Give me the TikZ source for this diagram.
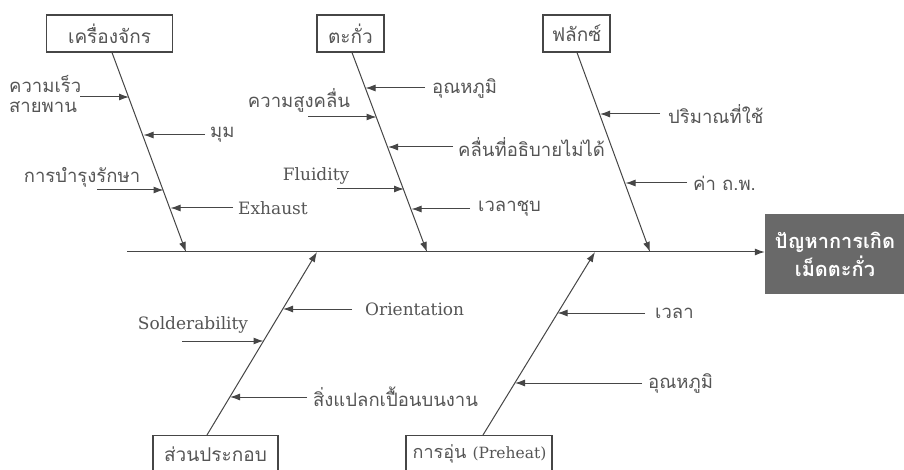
\documentclass[tikz,border=0pt]{standalone}
\usepackage{fontspec}
\setmainfont{DejaVu Serif}
\newfontfamily\thai[Script=Thai]{Loma}
\usetikzlibrary{arrows.meta}
\definecolor{ink}{RGB}{70,70,70}
\definecolor{txt}{RGB}{85,85,85}
\definecolor{effectfill}{RGB}{105,105,105}
\tikzset{
  cat/.style={draw=ink, line width=1.1pt, fill=white, text=txt, font=\thai\fontsize{19}{22}\selectfont,
              minimum height=37pt, inner sep=2pt},
  bone/.style={draw=ink, line width=1pt, -{Latex[length=10pt,width=7pt]}},
  twig/.style={draw=ink, line width=1pt, -{Latex[length=10pt,width=7pt]}},
  lbl/.style={text=txt, font=\thai\fontsize{18.5}{20}\selectfont, inner sep=0pt},
  lat/.style={text=txt, font=\fontsize{17}{20}\selectfont, inner sep=0pt},
}
\begin{document}
\begin{tikzpicture}[x=1pt, y=-1pt]
\useasboundingbox (0,0) rectangle (904,470);
\clip (0,0) rectangle (904,470);
\fill[white] (0,0) rectangle (904,470);

% effect box and spine
\node[fill=effectfill, text=white, font=\thai\bfseries\fontsize{20}{28}\selectfont, align=center,
      minimum width=140pt, minimum height=80pt, inner sep=0pt] (eff) at (835,254) {ปัญหาการเกิด\\เม็ดตะกั่ว};
\coordinate (tail) at (127,252);
\draw[bone] (tail) -- (eff.west |- tail);

% category boxes
\node[cat, minimum width=126pt] (mc) at (109.5,33.5) {เครื่องจักร};
\node[cat, minimum width=67pt]  (pb) at (350.5,33.5) {ตะกั่ว};
\node[cat, minimum width=67pt]  (fx) at (576.5,33.5) {ฟลักซ์};
\node[cat, minimum width=125pt, minimum height=60pt, anchor=north] (pt) at (215.5,435) {};
\node[cat, minimum width=146pt, minimum height=60pt, anchor=north] (ph) at (479,435) {};
\node[lbl, font=\thai\fontsize{19}{22}\selectfont] (ptl) at (215.5,454) {ส่วนประกอบ};
\node[lbl, font=\thai\fontsize{18}{22}\selectfont] (phl) at (479.5,454) {การอุ่น {\rmfamily\fontsize{15.5}{18}\selectfont (Preheat)}};

% joints on the spine
\coordinate (j1) at (186,252);
\coordinate (j2) at (427,252);
\coordinate (j3) at (650,252);
\coordinate (j4) at (317,252);
\coordinate (j5) at (595,252);

% main bones
\draw[bone] ([xshift=2.5pt]mc.south) -- (j1);
\draw[bone] ([xshift=1.5pt]pb.south) -- (j2);
\draw[bone] ([xshift=0.5pt]fx.south) -- (j3);
\draw[bone] ([xshift=-8.5pt]pt.north) -- (j4);
\draw[bone] ([xshift=4pt]ph.north) -- (j5);

% ---- machine ----
\node[lbl, anchor=west, align=left] (m1) at (9,94) {ความเร็ว\\สายพาน};
\coordinate (m1s) at (80,97);   \coordinate (m1t) at (129,97);
\draw[twig] (m1s) -- (m1t);
\node[lbl, anchor=west] (m2) at (210,135) {มุม};
\coordinate (m2s) at (205,135); \coordinate (m2t) at (143.5,135);
\draw[twig] (m2s) -- (m2t);
\node[lbl] (m3) at (82,177) {การบำรุงรักษา};
\coordinate (m3s) at (97,190);  \coordinate (m3t) at (163.5,190);
\draw[twig] (m3s) -- (m3t);
\node[lat, anchor=west] (m4) at (238,208) {Exhaust};
\coordinate (m4s) at (233,208); \coordinate (m4t) at (170.5,208);
\draw[twig] (m4s) -- (m4t);

% ---- solder ----
\node[lbl, anchor=west] (s1) at (432,88) {อุณหภูมิ};
\coordinate (s1s) at (425,88);  \coordinate (s1t) at (365.5,88);
\draw[twig] (s1s) -- (s1t);
\node[lbl] (s2) at (299,100) {ความสูงคลื่น};
\coordinate (s2s) at (308,117); \coordinate (s2t) at (376.5,117);
\draw[twig] (s2s) -- (s2t);
\node[lbl, anchor=west] (s3) at (458,147) {คลื่นที่อธิบายไม่ได้};
\coordinate (s3s) at (453,147); \coordinate (s3t) at (388,147);
\draw[twig] (s3s) -- (s3t);
\node[lat] (s4) at (316,176) {Fluidity};
\coordinate (s4s) at (337,189); \coordinate (s4t) at (404,189);
\draw[twig] (s4s) -- (s4t);
\node[lbl, anchor=west] (s5) at (478,209) {เวลาชุบ};
\coordinate (s5s) at (470,209); \coordinate (s5t) at (411.5,209);
\draw[twig] (s5s) -- (s5t);

% ---- flux ----
\node[lbl, anchor=west] (f1) at (668,114) {ปริมาณที่ใช้};
\coordinate (f1s) at (660,114); \coordinate (f1t) at (600,114);
\draw[twig] (f1s) -- (f1t);
\node[lbl, anchor=west] (f2) at (693,183) {ค่า ถ.พ.};
\coordinate (f2s) at (687,183); \coordinate (f2t) at (625.5,183);
\draw[twig] (f2s) -- (f2t);

% ---- parts ----
\node[lat, anchor=west] (p1) at (365,309) {Orientation};
\coordinate (p1s) at (352,309); \coordinate (p1t) at (283,309);
\draw[twig] (p1s) -- (p1t);
\node[lat] (p2) at (193,325) {Solderability};
\coordinate (p2s) at (182,341); \coordinate (p2t) at (263.5,341);
\draw[twig] (p2s) -- (p2t);
\node[lbl, anchor=west] (p3) at (313,397) {สิ่งแปลกเปื้อนบนงาน};
\coordinate (p3s) at (307,397); \coordinate (p3t) at (230,397);
\draw[twig] (p3s) -- (p3t);

% ---- preheat ----
\node[lbl, anchor=west] (h1) at (655,313) {เวลา};
\coordinate (h1s) at (645,313); \coordinate (h1t) at (557.5,313);
\draw[twig] (h1s) -- (h1t);
\node[lbl, anchor=west] (h2) at (648,383) {อุณหภูมิ};
\coordinate (h2s) at (642,383); \coordinate (h2t) at (515,383);
\draw[twig] (h2s) -- (h2t);
\end{tikzpicture}
\end{document}
